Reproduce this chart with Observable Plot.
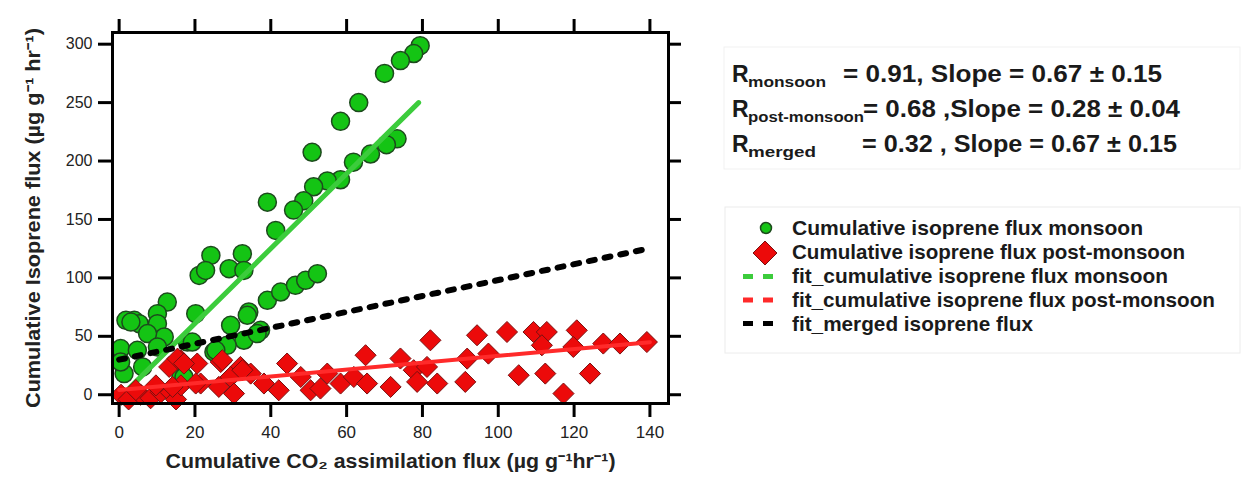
<!DOCTYPE html>
<html><head><meta charset="utf-8">
<script src="https://cdn.jsdelivr.net/npm/d3@7"></script>
<script src="https://cdn.jsdelivr.net/npm/@observablehq/plot@0.6"></script>
<style>
body{margin:0;background:#fff;}
#wrap{position:relative;width:1242px;height:479px;font-family:"Liberation Sans",Arial,sans-serif;}
#chart{position:absolute;left:0;top:0;}
#side{position:absolute;left:0;top:0;pointer-events:none;}
</style></head><body>
<div id="wrap"><div id="chart"></div><svg id="side" width="1242" height="479"></svg></div>
<script>
// ---- data ----
const monsoonX = [79.4,77.7,74.2,70.0,63.2,58.4,50.9,
  73.3,70.5,66.3,61.8,58.4,54.9,51.3,48.7,46.0,41.3,39.1,
  39.1,42.6,46.5,49.2,52.3,
  24.2,32.5,21.1,22.8,29.0,32.9,
  12.7,10.1,4.0,1.8,5.3,10.1,20.2,29.4,34.2,32.9,28.5,25.0,37.3,36.4,18.0,11.9,7.5,0.4,4.8,1.3,6.2,10.1,16.3,0.4,17.1,3.1,19.3,25.5,33.8];
const monsoonY = [298.7,292,286,275,250,234,207.5,
  219,214,206,199,184,183,178,166,158,140.6,164.8,
  80.8,87.9,93.6,97.9,103.6,
  119.2,120.7,102.1,106.4,107.9,106.4,
  79.3,69.4,63.7,63.7,60.8,60.8,69.4,59.4,70.8,46.6,42.3,36.6,55.1,52.3,45.1,49.4,52.3,39.5,38,18.1,23.8,40.9,15.2,28,15.2,62.2,45.1,38,68];
const postX = [0.5,2.5,5.7,8.3,11.0,13.6,15.0,4.4,9.7,16.3,
  16.3,13.2,20.6,26.8,32.0,21.5,29.4,34.7,26.3,30.3,38.2,42.1,44.3,47.9,50.5,53.1,54.9,58.4,61.9,65.0,65.4,71.6,74.2,77.7,
  82.1,78.6,83.9,81.2,91.3,91.8,94.4,97.4,102.3,105.4,109.3,112.8,111.5,112.4,117.2,120.7,119.8,124.2,127.7,132.1,139.2,
  15.4,17.1,14.1,20.2,27.2,32.5];
const postY = [0,-4,0,-3,2,2,-4,4,8,8,
  29.5,23.8,26.7,28,23.8,9.6,15.2,18.1,6.7,1,9.6,3.8,26.7,15.2,3.8,5.3,18.1,9.6,15.2,33.8,9.6,6.7,31,21,
  46.6,11,9.6,23.8,11,30.9,50.9,35.2,53.7,16.7,53.7,53.7,42.3,18.1,1,55.1,40.9,18.1,43.8,43.8,45.1,
  30.9,26.7,6.7,9.6,29.5,21];
const fitMonsoonX = [2.5,79];   const fitMonsoonY = [5,250];
const fitPostX = [0,140];       const fitPostY = [4,45];
const fitMergedX = [0,138];     const fitMergedY = [30,124];
const xTicks = [0,20,40,60,80,100,120,140];
const yTicks = [0,50,100,150,200,250,300];
const xTitle = "Cumulative CO\u2082 assimilation flux (\u00b5g g\u207b\u00b9hr\u207b\u00b9)";
const yTitle = "Cumulative Isoprene flux (\u00b5g g\u207b\u00b9 hr\u207b\u00b9)";
const statNames = ["monsoon","post-monsoon","merged"];
const statValues = ["= 0.91, Slope = 0.67 \u00b1 0.15","= 0.68 ,Slope = 0.28 \u00b1 0.04","= 0.32 , Slope = 0.67 \u00b1 0.15"];
const legendLabels = ["Cumulative isoprene flux monsoon","Cumulative isoprene flux post-monsoon","fit_cumulative isoprene flux monsoon","fit_cumulative isoprene flux post-monsoon","fit_merged isoprene flux"];

// ---- tables ----
const zip = (xs, ys) => xs.map((x,i)=>({x, y: ys[i]}));
const monsoon = zip(monsoonX, monsoonY);
const post = zip(postX, postY);
const fitMonsoon = zip(fitMonsoonX, fitMonsoonY);
const fitPost = zip(fitPostX, fitPostY);
const fitMerged = zip(fitMergedX, fitMergedY);

const GREEN = "#14c414", GREEN_LINE = "#3ccc3c", RED = "#ec0a0a", RED_LINE = "#ff2a2a";

const chart = Plot.plot({
  width: 700, height: 479,
  marginLeft: 112, marginRight: 32, marginTop: 32, marginBottom: 76,
  x: {domain: [-1.75, 144.9]},
  y: {domain: [-7.5, 310]},
  style: {fontFamily: "'Liberation Sans', Arial, sans-serif", color: "#000", background: "transparent", overflow: "visible"},
  marks: [
    Plot.dot(monsoon, {x: "x", y: "y", r: 9, fill: GREEN, stroke: "#1d4a1d", strokeWidth: 1.5}),
    Plot.line(fitMonsoon, {x: "x", y: "y", stroke: GREEN_LINE, strokeWidth: 5}),
    Plot.dot(post, {x: "x", y: "y", symbol: "diamond2", r: 9.5, fill: RED, stroke: "#7a1010", strokeWidth: 1}),
    Plot.line(fitPost, {x: "x", y: "y", stroke: RED_LINE, strokeWidth: 4}),
    Plot.line(fitMerged, {x: "x", y: "y", stroke: "#000", strokeWidth: 6, strokeDasharray: "6,10"}),
    Plot.frame({stroke: "#000", strokeWidth: 3}),
    Plot.axisX({anchor: "bottom", ticks: xTicks, tickSize: 14, strokeWidth: 3, tickPadding: 8, fontSize: 17, label: null, fill: "#222"}),
    Plot.axisX({anchor: "top", ticks: xTicks, tickSize: 14, strokeWidth: 3, tickFormat: () => "", label: null}),
    Plot.axisY({anchor: "left", ticks: yTicks, tickSize: 14, strokeWidth: 3, tickPadding: 6, fontSize: 16, label: null, fill: "#222"}),
    Plot.axisY({anchor: "right", ticks: yTicks, tickSize: 12, strokeWidth: 3, tickFormat: () => "", label: null}),
    Plot.text([xTitle], {frameAnchor: "bottom", dy: 64, fontSize: 20, fontWeight: "bold", fill: "#222", textAnchor: "middle"}),
    Plot.text([yTitle], {frameAnchor: "left", dx: -79, rotate: -90, fontSize: 20, fontWeight: "bold", fill: "#222", textAnchor: "middle"})
  ]
});
document.getElementById("chart").appendChild(chart);
// stretch axis titles to the reference's span
d3.select(chart).selectAll("text").each(function() {
  const t = this.textContent;
  if (t === xTitle) d3.select(this).attr("textLength", 450).attr("lengthAdjust", "spacingAndGlyphs");
  if (t === yTitle) d3.select(this).attr("textLength", 380).attr("lengthAdjust", "spacingAndGlyphs");
});

// ---- side panel: statistics and legend ----
const side = d3.select("#side");
side.append("rect").attr("x", 724).attr("y", 47).attr("width", 516).attr("height", 122)
  .attr("fill", "none").attr("stroke", "#f1f1f1");
side.append("rect").attr("x", 725).attr("y", 207).attr("width", 515).attr("height", 146)
  .attr("fill", "none").attr("stroke", "#ececec");

const statBase = [82, 117, 152];
const statSubW = [78, 116, 68];
const statValX = [843, 863, 862];
const statValW = [319, 317, 315];
statNames.forEach((n, i) => {
  const g = side.append("g").attr("font-family", "'Liberation Sans', Arial, sans-serif").attr("font-weight", "bold").attr("fill", "#1a1a1a");
  g.append("text").attr("x", 732).attr("y", statBase[i]).attr("font-size", 23).text("R");
  g.append("text").attr("x", 748).attr("y", statBase[i] + 5).attr("font-size", 15)
    .attr("textLength", statSubW[i]).attr("lengthAdjust", "spacingAndGlyphs").text(n);
  g.append("text").attr("x", statValX[i]).attr("y", statBase[i]).attr("font-size", 24)
    .attr("textLength", statValW[i]).attr("lengthAdjust", "spacingAndGlyphs").text(statValues[i]);
});

const legBase = [235, 259, 283, 307, 331];
const legW = [351, 393, 376, 423, 241];
legendLabels.forEach((t, i) => {
  side.append("text").attr("x", 792).attr("y", legBase[i]).attr("font-size", 20.5)
    .attr("font-family", "'Liberation Sans', Arial, sans-serif").attr("font-weight", "bold").attr("fill", "#1a1a1a")
    .attr("textLength", legW[i]).attr("lengthAdjust", "spacingAndGlyphs").text(t);
});
side.append("circle").attr("cx", 766).attr("cy", 228).attr("r", 5.5).attr("fill", GREEN).attr("stroke", "#1d4a1d").attr("stroke-width", 1.5);
side.append("path").attr("d", "M765,241 L777,253 L765,265 L753,253 Z").attr("fill", RED).attr("stroke", "#7a1010");
[[GREEN_LINE, 276.5], [RED_LINE, 300], [ "#000", 323.5]].forEach(([c, y]) => {
  side.append("line").attr("x1", 743).attr("x2", 776).attr("y1", y).attr("y2", y)
    .attr("stroke", c).attr("stroke-width", 5).attr("stroke-dasharray", "10,10");
});
</script>
</body></html>
